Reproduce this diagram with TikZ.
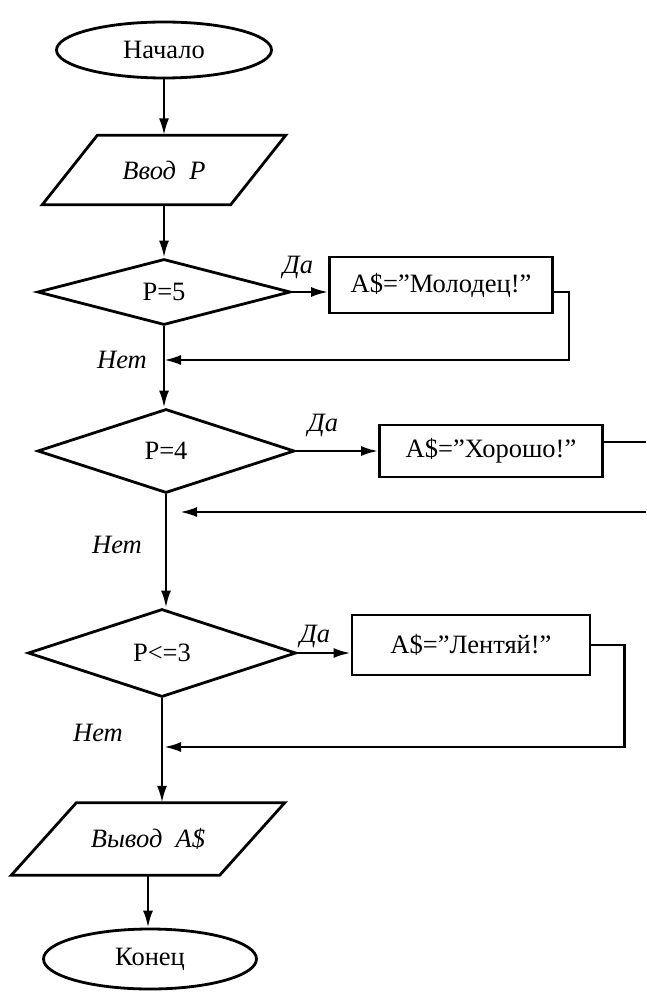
\documentclass[tikz,border=0pt]{standalone}
\usepackage{fontspec}
\setmainfont{Liberation Serif}
\usetikzlibrary{arrows.meta, shapes.geometric}

\begin{document}
\begin{tikzpicture}[x=1pt,y=-1pt,
  font=\fontsize{26.5}{30}\selectfont,
  term/.style={ellipse,draw,line width=2.8pt,minimum width=215pt,minimum height=56pt,inner sep=0pt},
  io/.style={rectangle,inner sep=0pt,font=\fontsize{26.5}{30}\selectfont\itshape},
  outline/.style={line width=2.8pt,line join=miter},
  cond/.style={diamond,draw,line width=2.8pt,inner sep=0pt},
  box/.style={rectangle,draw,line width=2.8pt,inner sep=0pt},
  lbl/.style={font=\fontsize{26.5}{30}\selectfont\itshape},
  arr/.style={-{Latex[length=17pt,width=10pt]},line width=2.5pt},
  wire/.style={line width=2.5pt}]
  \useasboundingbox (0,0) rectangle (646,992);
  % blocks
  \node[term] (start) at (164,50) {Начало};
  \node[io,minimum width=188pt,minimum height=69pt] (input) at (164,170) {Ввод\ \ P};
  \draw[outline] ([xshift=27.5pt]input.north west) -- ([xshift=27.5pt]input.north east)
    -- ([xshift=-27.5pt]input.south east) -- ([xshift=-27.5pt]input.south west) -- cycle;
  \node[cond,minimum width=253pt,minimum height=66pt] (d1) at (164,292) {P=5};
  \node[box,minimum width=223pt,minimum height=56pt] (b1) at (441,285) {A\$=''Молодец!''};
  \node[cond,minimum width=257pt,minimum height=84pt] (d2) at (166,451) {P=4};
  \node[box,minimum width=223pt,minimum height=52pt] (b2) at (491,451) {A\$=''Хорошо!''};
  \node[cond,minimum width=268pt,minimum height=88pt] (d3) at (162,653) {P<=3};
  \node[box,minimum width=238pt,minimum height=60pt] (b3) at (471,645) {A\$=''Лентяй!''};
  \node[io,minimum width=208pt,minimum height=72pt] (output) at (148,839) {Вывод\ \ A\$};
  \draw[outline] ([xshift=32.5pt]output.north west) -- ([xshift=32.5pt]output.north east)
    -- ([xshift=-32.5pt]output.south east) -- ([xshift=-32.5pt]output.south west) -- cycle;
  \node[term,minimum width=213pt,minimum height=60pt] (end) at (150,959) {Конец};
  % labels
  \node[lbl] (yes1) at (298,268) {Да};
  \node[lbl] (no1) at (122,360) {Нет};
  \node[lbl] (yes2) at (323,426) {Да};
  \node[lbl] (no2) at (117,545) {Нет};
  \node[lbl] (yes3) at (315,637) {Да};
  \node[lbl] (no3) at (98,733) {Нет};
  % joins
  \coordinate (j1) at (164,360);
  \coordinate (r2) at (646,442);
  \coordinate (r2b) at (646,512);
  \coordinate (j2) at (180,512);
  \coordinate (j3) at (164,747);
  % connectors
  \draw[arr] (start) -- (start |- input.north);
  \draw[arr] (input) -- (input |- d1.north);
  \draw[arr] (d1.east) -- (d1.east -| b1.west);
  \draw[arr] (b1.east |- d1.east) -- ++(15,0) |- (j1);
  \draw[arr] (d1.south) -- (d1.south |- d2.north);
  \draw[arr] (d2.east) -- (d2.east -| b2.west);
  \draw[wire] (b2.east |- r2) -- (r2);
  \draw[arr] (r2b) -- (j2);
  \draw[arr] (d2.south) -- (d2.south |- d3.north);
  \draw[arr] (d3.east) -- (d3.east -| b3.west);
  \draw[arr] (b3.east) -- ++(33,0) |- (j3);
  \draw[arr] (d3.south) -- (d3.south |- output.north);
  \draw[arr] (output) -- (output |- end.north);
\end{tikzpicture}
\end{document}
